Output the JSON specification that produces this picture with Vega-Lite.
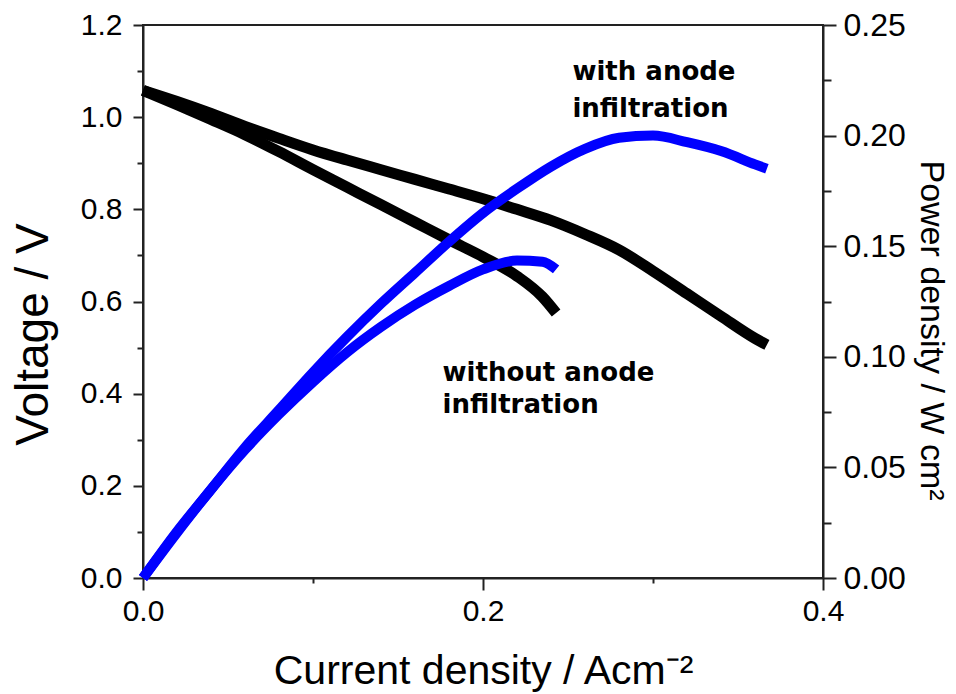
{
  "$schema": "https://vega.github.io/schema/vega-lite/v6.json",
  "autosize": "none",
  "width": 680,
  "height": 553,
  "padding": {"left": 143, "top": 25, "right": 133, "bottom": 116},
  "background": "white",
  "view": {"stroke": "#222", "strokeWidth": 2},
  "config": {
    "font": "Liberation Sans",
    "axis": {
      "domainColor": "#222", "domainWidth": 2, "tickColor": "#222", "tickWidth": 2,
      "labelColor": "#000", "titleColor": "#000", "labelFont": "Liberation Sans", "titleFont": "Liberation Sans",
      "titleFontWeight": "normal", "grid": false, "labelFontSize": 30, "labelFlush": false, "labelOverlap": false, "labelBound": false
    }
  },
  "datasets": {
    "curves": [
      {"s": "with", "I": 0, "V": 1.058, "P": 0},
      {"s": "with", "I": 0.02, "V": 1.034, "P": 0.021},
      {"s": "with", "I": 0.04, "V": 1.008, "P": 0.040},
      {"s": "with", "I": 0.06, "V": 0.980, "P": 0.059},
      {"s": "with", "I": 0.08, "V": 0.954, "P": 0.076},
      {"s": "with", "I": 0.10, "V": 0.929, "P": 0.093},
      {"s": "with", "I": 0.12, "V": 0.907, "P": 0.109},
      {"s": "with", "I": 0.14, "V": 0.886, "P": 0.124},
      {"s": "with", "I": 0.16, "V": 0.865, "P": 0.138},
      {"s": "with", "I": 0.18, "V": 0.844, "P": 0.152},
      {"s": "with", "I": 0.20, "V": 0.823, "P": 0.165},
      {"s": "with", "I": 0.22, "V": 0.800, "P": 0.176},
      {"s": "with", "I": 0.24, "V": 0.776, "P": 0.186},
      {"s": "with", "I": 0.26, "V": 0.746, "P": 0.194},
      {"s": "with", "I": 0.28, "V": 0.712, "P": 0.199},
      {"s": "with", "I": 0.30, "V": 0.666, "P": 0.200},
      {"s": "with", "I": 0.32, "V": 0.617, "P": 0.197},
      {"s": "with", "I": 0.34, "V": 0.568, "P": 0.193},
      {"s": "with", "I": 0.36, "V": 0.520, "P": 0.187},
      {"s": "with", "I": 0.367, "V": 0.506, "P": 0.185},
      {"s": "without", "I": 0, "V": 1.058, "P": 0},
      {"s": "without", "I": 0.02, "V": 1.027, "P": 0.0205},
      {"s": "without", "I": 0.04, "V": 0.995, "P": 0.040},
      {"s": "without", "I": 0.06, "V": 0.962, "P": 0.058},
      {"s": "without", "I": 0.08, "V": 0.925, "P": 0.074},
      {"s": "without", "I": 0.10, "V": 0.886, "P": 0.0886},
      {"s": "without", "I": 0.12, "V": 0.848, "P": 0.102},
      {"s": "without", "I": 0.14, "V": 0.810, "P": 0.1135},
      {"s": "without", "I": 0.16, "V": 0.772, "P": 0.1235},
      {"s": "without", "I": 0.18, "V": 0.734, "P": 0.132},
      {"s": "without", "I": 0.20, "V": 0.697, "P": 0.1395},
      {"s": "without", "I": 0.22, "V": 0.655, "P": 0.1435},
      {"s": "without", "I": 0.235, "V": 0.610, "P": 0.1430},
      {"s": "without", "I": 0.243, "V": 0.575, "P": 0.1395}
    ],
    "notes": [
      {"label": "with anode", "I": 0.2526, "V": 1.081},
      {"label": "infiltration", "I": 0.2526, "V": 1.000},
      {"label": "without anode", "I": 0.1762, "V": 0.4275},
      {"label": "infiltration", "I": 0.1762, "V": 0.358}
    ]
  },
  "layer": [
    {
      "data": {"name": "curves"},
      "mark": {"type": "line", "color": "#000000", "strokeWidth": 11, "interpolate": "monotone", "strokeCap": "butt"},
      "encoding": {
        "x": {
          "field": "I", "type": "quantitative",
          "scale": {"domain": [0, 0.4], "nice": false},
          "axis": {
            "orient": "bottom",
            "values": [0, 0.1, 0.2, 0.3, 0.4],
            "labelExpr": "abs(datum.value*5 - round(datum.value*5)) < 1e-6 ? format(datum.value, '.1f') : ''",
            "tickSize": {"condition": {"test": "abs(datum.value*5 - round(datum.value*5)) < 1e-6", "value": 12}, "value": 5},
            "labelPadding": 6,
            "title": "Current density / Acm⁻²",
            "titleFontSize": 41,
            "titleY": 105,
            "titleBaseline": "alphabetic"
          }
        },
        "y": {
          "field": "V", "type": "quantitative",
          "scale": {"domain": [0, 1.2], "nice": false},
          "axis": {
            "orient": "left",
            "values": [0, 0.1, 0.2, 0.3, 0.4, 0.5, 0.6, 0.7, 0.8, 0.9, 1.0, 1.1, 1.2],
            "labelExpr": "abs(datum.value*5 - round(datum.value*5)) < 1e-6 ? format(datum.value, '.1f') : ''",
            "tickSize": {"condition": {"test": "abs(datum.value*5 - round(datum.value*5)) < 1e-6", "value": 10}, "value": 6},
            "labelPadding": 11,
            "title": "Voltage / V",
            "titleFontSize": 46,
            "titleAngle": -90,
            "titleX": -96,
            "titleY": 309,
            "titleAlign": "center",
            "titleBaseline": "alphabetic"
          }
        },
        "detail": {"field": "s"}
      }
    },
    {
      "data": {"name": "curves"},
      "mark": {"type": "line", "color": "#0000FF", "strokeWidth": 10, "interpolate": "monotone", "strokeCap": "butt"},
      "encoding": {
        "x": {"field": "I", "type": "quantitative", "scale": {"domain": [0, 0.4], "nice": false}},
        "y": {
          "field": "P", "type": "quantitative",
          "scale": {"domain": [0, 0.25], "nice": false},
          "axis": {
            "orient": "right",
            "values": [0, 0.025, 0.05, 0.075, 0.1, 0.125, 0.15, 0.175, 0.2, 0.225, 0.25],
            "labelExpr": "abs(datum.value*20 - round(datum.value*20)) < 1e-6 ? format(datum.value, '.2f') : ''",
            "tickSize": {"condition": {"test": "abs(datum.value*20 - round(datum.value*20)) < 1e-6", "value": 13}, "value": 8},
            "labelPadding": 7,
            "labelFontSize": 32,
            "title": "Power density / W cm²",
            "titleFontSize": 34,
            "titleAngle": 90,
            "titleX": 97,
            "titleY": 305,
            "titleAlign": "center",
            "titleBaseline": "alphabetic"
          }
        },
        "detail": {"field": "s"}
      }
    },
    {
      "data": {"name": "notes"},
      "mark": {"type": "text", "align": "left", "baseline": "alphabetic", "font": "DejaVu Sans", "fontWeight": "bold", "fontSize": 26, "color": "#000"},
      "encoding": {
        "x": {"field": "I", "type": "quantitative", "scale": {"domain": [0, 0.4], "nice": false}},
        "y": {"field": "V", "type": "quantitative", "scale": {"domain": [0, 1.2], "nice": false}, "axis": null},
        "text": {"field": "label"}
      }
    }
  ],
  "resolve": {"scale": {"y": "independent"}, "axis": {"y": "independent"}}
}
